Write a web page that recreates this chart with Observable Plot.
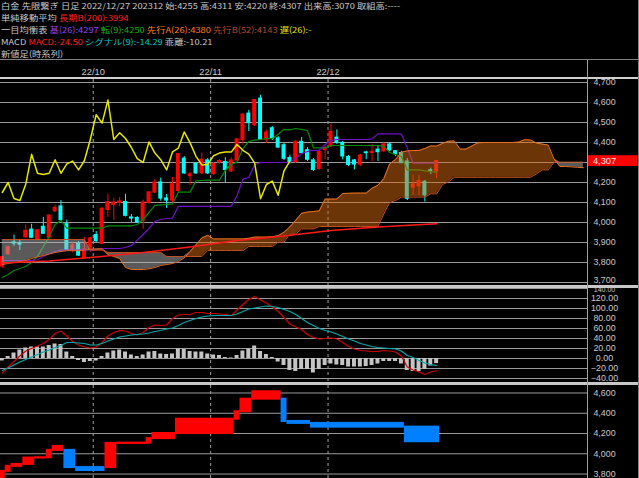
<!DOCTYPE html>
<html><head><meta charset="utf-8">
<script src="https://cdn.jsdelivr.net/npm/d3@7"></script>
<script src="https://cdn.jsdelivr.net/npm/@observablehq/plot@0.6"></script>
<style>
html,body{margin:0;padding:0;background:#000;}
#root{position:relative;width:639px;height:478px;overflow:hidden;background:#000;font-family:"Noto Sans CJK JP",sans-serif;}
#hdr{position:absolute;left:1px;top:0;width:636px;height:60px;color:#c8c8c8;font-size:9.3px;line-height:12px;white-space:nowrap;}
#hdr div{height:12px;transform:scaleY(0.87);transform-origin:0 50%;}
.p{position:absolute;left:0;width:639px;overflow:hidden;}
.ln{position:absolute;}
</style></head><body><div id="root"><div id="hdr"></div></div>
<script>
// ---------- data ----------
const open  = [3780,3842,3900,3895,3927,3964,3915,3978,3924,4056,4080,3991,3866,3893,3822,3864,3937,3893,4063,4088,4098,4102,4025,4022,4008,4098,4150,4200,4120,4110,4158,4319,4232,4293,4246,4310,4242,4300,4302,4256,4310,4412,4544,4488,4619,4415,4471,4420,4386,4322,4302,4403,4361,4310,4268,4362,4381,4424,4398,4327,4310,4290,4350,4348,4364,4356,4390,4356,4347,4305,4175,4182,4203,4262,4255];
const high  = [3830,3880,3937,3915,3988,3991,3965,4025,4040,4085,4110,4012,3898,3905,3925,3925,3955,4075,4141,4120,4125,4141,4040,4030,4112,4155,4217,4222,4140,4225,4345,4330,4250,4300,4348,4320,4300,4315,4324,4324,4420,4545,4561,4615,4636,4462,4480,4430,4395,4336,4410,4425,4375,4320,4360,4380,4492,4463,4405,4335,4315,4340,4356,4390,4385,4402,4398,4360,4356,4320,4237,4237,4210,4272,4311];
const low   = [3770,3835,3881,3860,3920,3920,3910,3940,3920,4050,4005,3858,3848,3830,3815,3850,3900,3890,4025,4010,4080,4028,4000,3995,3966,4090,4145,4107,4070,4098,4150,4240,4185,4240,4240,4240,4235,4290,4200,4250,4305,4386,4455,4480,4410,4395,4410,4370,4310,4293,4295,4340,4305,4255,4260,4314,4373,4390,4313,4280,4263,4280,4314,4305,4305,4350,4355,4330,4295,4110,4135,4135,4102,4240,4220];
const close = [3826,3876,3895,3890,3958,3924,3961,3944,4034,4073,4012,3864,3885,3835,3864,3920,3907,4068,4102,4100,4105,4034,4020,4000,4100,4150,4200,4120,4110,4191,4341,4246,4240,4246,4314,4246,4293,4307,4263,4310,4415,4539,4497,4612,4415,4449,4420,4375,4319,4300,4403,4347,4314,4263,4353,4372,4453,4398,4331,4288,4290,4334,4347,4353,4352,4390,4361,4342,4297,4119,4190,4207,4136,4258,4307];
const tenkan = [3725,3740,3760,3770,3780,3800,3830,3880,3930,3990,4010,3972,3972,3972,3972,3972,3972,3972,3983,3983,3983,3983,3983,3990,4015,4050,4086,4088,4090,4093,4152,4152,4152,4208,4210,4212,4212,4212,4260,4290,4302,4369,4405,4412,4415,4420,4420,4440,4466,4463,4470,4466,4460,4373,4373,4373,4385,4385,4385,4385,4385,4385,4385,4385,4385,4381,4350,4340,4330,4263,4263,4263,4258,4255,4250];
const kijun = [3810,3810,3810,3810,3810,3810,3815,3830,3845,3855,3862,3863,3863,3863,3863,3863,3863,3870,3870,3870,3870,3875,3885,3912,3940,3971,4005,4015,4020,4022,4081,4081,4081,4081,4081,4081,4081,4081,4081,4081,4135,4217,4225,4290,4300,4300,4300,4300,4300,4300,4320,4345,4355,4361,4361,4390,4410,4415,4415,4415,4415,4415,4415,4418,4443,4443,4443,4443,4443,4373,4297,4297,4297,4297,4297];
const senkouA = [3790,3795,3800,3805,3810,3820,3828,3835,3842,3850,3855,3859,3859,3859,3862,3865,3868,3868,3840,3830,3820,3775,3765,3765,3765,
  3768,3775,3785,3790,3795,3805,3823,3855,3888,3923,3936,3918,3918,3918,3918,3918,3918,3921,3927,3927,3927,3929,3934,3951,3978,
  4011,4046,4052,4055,4058,4117,4117,4117,4145,4146,4147,4147,4147,4171,4186,4219,4293,4315,4351,4358,4360,4360,4370,4383,4382,
  4395,4406,4408,4367,4367,4382,4398,4400,4400,4400,4400,4400,4400,4402,4414,4412,4397,4392,4387,4318,4280,4280,4278,4276,4274];
const senkouB = [3915,3915,3915,3915,3915,3915,3915,3915,3915,3915,3915,3915,3915,3915,3915,3862,3862,3862,3850,3850,3850,3850,3850,3850,3850,
  3850,3850,3850,3830,3830,3830,3830,3830,3830,3830,3860,3860,3860,3860,3860,3860,3860,3880,3880,3880,3880,3880,3902,3902,3943,
  3943,3968,3968,3968,3980,3980,3980,3980,3980,3980,3980,3980,3980,3980,3980,4043,4100,4110,4127,4127,4127,4127,4127,4143,4143,
  4190,4203,4226,4226,4226,4226,4226,4226,4226,4226,4226,4226,4226,4226,4226,4226,4243,4263,4263,4301,4301,4301,4301,4301,4301];
const smaIdx = [0,8,16,24,32,40,48,56,64,74];
const smaVal = [3798,3808,3827,3850,3878,3910,3932,3960,3978,3994];
const macdLine = [-29,-17,-6,5,15,20,25,30,38,50,55,45,34,27,23,21,23,32,45,52,56,55,50,47,52,62,67,66,67,80,87,88,88,92,92,90,90,89,88,86,97,108,118,124,117,111,103,94,82,69,63,58,48,42,39,40,41,39,32,24,19,16,15,14,14,16,15,13,5,-17,-23,-27,-32,-27,-24.5];
const signalLine = [-24,-19,-13,-7,-2,3,8,13,17,22,26,32,32,31,30,27,27,30,35,39,43,45,47,48,49,51,54,56,59,61,66,72,76,80,83,85,86,86,86,86,89,94,99,101,103,105,104,102,98,94,88,80,72,66,60,56,53,49,44,39,35,30,27,24,22,21,20,19,15,6,2,-4,-9,-12,-14.29];
const histBars = [-5,4,11,17,21,23,23,23,26,29,28,13,4,-4,-8,-6,-5,4,11,15,17,13,7,4,7,13,14,9,8,9,19,18,14,13,13,9,7,6,2,1,6,15,19,25,14,8,2,-7,-14,-24,-26,-22,-22,-29,-22,-14,-11,-13,-14,-17,-17,-17,-16,-14,-11,-6,-6,-6,-11,-24,-26,-26,-22,-15,-10.21];
const nvStart = [0,1,2,4,6,8,9,11,13,18,20,25,26,30,40,41,43,48,49,53,69];
const nvFrom  = [3740,3826,3876,3895,3958,3961,4034,4034,3864,3864,4102,4105,4150,4200,4341,4415,4539,4539,4319,4300,4263];
const nvTo    = [3826,3876,3895,3958,3961,4034,4073,3864,3835,4102,4105,4150,4200,4341,4415,4539,4612,4319,4300,4263,4119];
const monthStart = [16,36,56];
const monthLabels = ["22/10","22/11","22/12"];
const priceTicks = [3800,3900,4000,4100,4200,4300,4400,4500,4600,4700];
const priceEdgeTick = [3700];
const macdTicks = [-40,-20,0,20,40,60,80,100,120];
const macdEdgeTick = [140];
const nvTicks = [3800,4000,4200,4400,4600];
const chikouShift = 25;
const info = {name:"白金 先限繋ぎ 日足", date:"2022/12/27", contract:"202312", volume:"3070"};
const legendVals = {sma:"3994", kijun:"4297", tenkan:"4250", spanA:"4380", spanB:"4143", macd:"-24.50", signal:"-14.29", diff:"-10.21"};

// ---------- header ----------
const N = close.length;
const C = {txt:"#c8c8c8", red:"#ff2020", purple:"#9a40ff", green:"#10b010", orange:"#ff7a20", brown:"#b04a34", yellow:"#e6e600", cyan:"#00c4c4"};
const sp = (c,t) => `<span style="color:${c}">${t}</span>`;
document.getElementById("hdr").innerHTML = [
  `${info.name} ${info.date} ${info.contract} 始:${open[N-1]} 高:${high[N-1]} 安:${low[N-1]} 終:${close[N-1]} 出来高:${info.volume} 取組高:----`,
  `単純移動平均 ${sp(C.red,"長期B(200):"+legendVals.sma)}`,
  `一目均衡表 ${sp(C.purple,"基(26):"+legendVals.kijun)} ${sp(C.green,"転(9):"+legendVals.tenkan)} ${sp(C.orange,"先行A(26):"+legendVals.spanA)} ${sp(C.brown,"先行B(52):"+legendVals.spanB)} ${sp(C.yellow,"遅(26):-")}`,
  `MACD ${sp(C.red,"MACD:"+legendVals.macd)} ${sp(C.cyan,"シグナル(9):"+legendVals.signal)} 乖離:${legendVals.diff}`,
  `新値足(時系列)`
].map(s => `<div>${s}</div>`).join("");

// ---------- tables ----------
const bars = d3.range(N).map(i => ({i, o:open[i], h:high[i], l:low[i], c:close[i]}));
const cColor = d => d.c >= d.o ? "#ff0000" : "#00ffff";
const cloud = senkouA.map((a,i) => ({i, a, b:senkouB[i]}));
const chikou = close.slice(chikouShift).map((v,i) => ({i, v}));
const sma = smaIdx.map((i,k) => ({i, v:smaVal[k]}));
const months = monthStart.map((s,k) => ({x:s-0.5, label:monthLabels[k]}));
const macdT = macdLine.map((v,i) => ({i, m:v, s:signalLine[i], h:histBars[i]}));
const nv = nvStart.map((s,k) => ({x1:s-0.5, x2:(k+1<nvStart.length?nvStart[k+1]:N)-0.5, y1:nvFrom[k], y2:nvTo[k], up:nvTo[k]>nvFrom[k]}));

const xDom = [-0.3, 99.7];
const W = 639, MR = 52;
const AXF = "'Liberation Sans',Arial,sans-serif";
const style = {background:"transparent", fontFamily:AXF, fontSize:"8.9px", color:"#c8c8c8"};
const gridCol = "#9a9a9a";
const dashCol = "#a0a0a0";
const lbl = d3.format(",");
const axisOpts = (fmt, extra={}) => ({anchor:"right", tickSize:0, tickPadding:17, textAnchor:"middle", tickFormat:fmt, fill:"#c8c8c8", fontSize:8.9, fontFamily:AXF, ...extra});

const mainPlot = Plot.plot({
  width:W, height:225, marginLeft:0, marginRight:MR, marginTop:19, marginBottom:0,
  x:{domain:xDom, axis:null}, y:{domain:[3685,4715], axis:null}, color:{type:"identity"}, style,
  marks:[
    Plot.gridY(priceTicks.concat(priceEdgeTick), {stroke:gridCol, strokeOpacity:1}),
    Plot.ruleX(months, {x:"x", stroke:dashCol, strokeDasharray:"3,3"}),
    Plot.ruleX(bars, {x:"i", y1:"l", y2:"h", stroke:cColor}),
    Plot.rect(bars, {x1:d=>d.i-0.34, x2:d=>d.i+0.34, y1:d=>Math.min(d.o,d.c), y2:d=>Math.max(d.o,d.c), fill:cColor, insetTop:-0.6, insetBottom:-0.6}),
    Plot.lineY(tenkan, {x:(d,i)=>i, y:d=>d, stroke:"#008c00", strokeWidth:1.2}),
    Plot.lineY(kijun, {x:(d,i)=>i, y:d=>d, stroke:"#7010c8", strokeWidth:1.2}),
    Plot.lineY(chikou, {x:"i", y:"v", stroke:"#e6e600", strokeWidth:1.5}),
    Plot.areaY(cloud, {x:"i", y1:"b", y2:d=>Math.max(d.a,d.b), fill:"#d86a10", fillOpacity:0.5}),
    Plot.areaY(cloud, {x:"i", y1:"a", y2:d=>Math.max(d.a,d.b), fill:"#b4b4b4", fillOpacity:0.5}),
    Plot.lineY(cloud, {x:"i", y:"a", stroke:"#e87020", strokeWidth:1}),
    Plot.lineY(cloud, {x:"i", y:"b", stroke:"#c05020", strokeWidth:1}),
    Plot.lineY(sma, {x:"i", y:"v", stroke:"#ff1a1a", strokeWidth:1.5}),
    Plot.axisY(priceTicks, axisOpts(lbl)),
    Plot.axisY(priceEdgeTick, axisOpts(lbl, {dy:-2.6})),
    Plot.text(months, {x:"x", text:"label", frameAnchor:"top", dy:-11, fill:"#c8c8c8", fontSize:9.3}),
    Plot.rect([close[N-1]], {x1:xDom[1]+0.03, x2:xDom[1]+8.6, y1:d=>d-27, y2:d=>d+27, fill:"#ff0000"}),
    Plot.text([close[N-1]], {x:xDom[1]+2.9, y:d=>d, text:d=>lbl(d), textAnchor:"middle", fill:"#ffe8e8", fontSize:9.3})
  ]
});

const macdPlot = Plot.plot({
  width:W, height:100, marginLeft:0, marginRight:MR, marginTop:3, marginBottom:3,
  x:{domain:xDom, axis:null}, y:{domain:[-48,140], axis:null}, style,
  marks:[
    Plot.gridY(macdTicks.concat(macdEdgeTick), {stroke:gridCol, strokeOpacity:1}),
    Plot.ruleX(months, {x:"x", stroke:dashCol, strokeDasharray:"3,3"}),
    Plot.rect(macdT, {x1:d=>d.i-0.34, x2:d=>d.i+0.34, y1:0, y2:"h", fill:"#c4c4c4"}),
    Plot.lineY(macdT, {x:"i", y:"m", stroke:"#d00000", strokeWidth:1.2}),
    Plot.lineY(macdT, {x:"i", y:"s", stroke:"#00a8a8", strokeWidth:1.2}),
    Plot.axisY(macdTicks, axisOpts(d3.format(".2f"))),
    Plot.axisY(macdEdgeTick, axisOpts(d3.format(".2f"), {fontSize:7, dy:1.2}))
  ]
});

const nvPlot = Plot.plot({
  width:W, height:93, marginLeft:0, marginRight:MR, marginTop:0, marginBottom:0,
  x:{domain:xDom, axis:null}, y:{domain:[3756,4674], axis:null}, style,
  marks:[
    Plot.gridY(nvTicks, {stroke:gridCol, strokeOpacity:1}),
    Plot.ruleX(months, {x:"x", stroke:dashCol, strokeDasharray:"3,3"}),
    Plot.rect(nv, {x1:"x1", x2:"x2", y1:"y1", y2:"y2", fill:d=>d.up?"#ff0000":"#0080ff", insetTop:-1, insetBottom:-1}),
    Plot.axisY(nvTicks, axisOpts(lbl))
  ]
});

const root = document.getElementById("root");
function place(el, top, h){ const w=document.createElement("div"); w.className="p"; w.style.top=top+"px"; w.style.height=h+"px"; w.appendChild(el); root.appendChild(w); }
place(mainPlot, 60, 225); place(macdPlot, 285, 100); place(nvPlot, 385, 93);
function line(l,t,w,h,c){ const d=document.createElement("div"); d.className="ln"; Object.assign(d.style,{left:l+"px",top:t+"px",width:w+"px",height:h+"px",background:c}); root.appendChild(d); }
line(0,59,639,1,"#808080");
line(0,77,639,2,"#d0d0d0");
line(0,285,639,3,"#c8c8c8");
line(0,382,639,3,"#c8c8c8");
line(587,60,1,418,"#a0a0a0");
line(638,0,1,478,"#808080");
</script></body></html>
